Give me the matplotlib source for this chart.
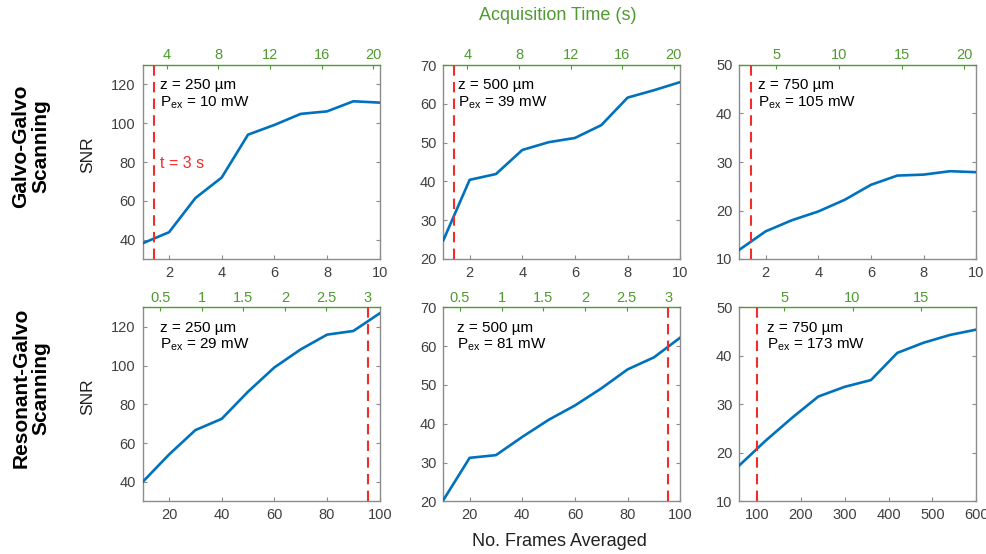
import matplotlib
matplotlib.use("Agg")
import matplotlib.pyplot as plt
import numpy as np

plt.rcParams['font.family'] = ['Liberation Sans', 'DejaVu Sans']
plt.rcParams['mathtext.fontset'] = 'custom'
plt.rcParams['mathtext.rm'] = 'Liberation Sans'
plt.rcParams['mathtext.it'] = 'Liberation Sans'

# ---------------- data ----------------
frames_gg = [1, 2, 3, 4, 5, 6, 7, 8, 9, 10]
snr_gg_250 = [38.1, 43.8, 61.4, 72.0, 94.1, 99.1, 104.8, 106.1, 111.3, 110.6]
snr_gg_500 = [24.8, 40.4, 41.9, 48.1, 50.1, 51.2, 54.5, 61.6, 63.5, 65.6]
snr_gg_750 = [11.9, 15.7, 18.0, 19.8, 22.2, 25.3, 27.2, 27.4, 28.1, 27.9]

frames_rg_100 = [10, 20, 30, 40, 50, 60, 70, 80, 90, 100]
snr_rg_250 = [40.0, 54.1, 66.7, 72.5, 86.5, 99.0, 108.3, 115.9, 117.8, 126.9]
snr_rg_500 = [20.3, 31.2, 31.9, 36.6, 41.0, 44.7, 49.1, 54.0, 57.1, 62.2]
frames_rg_600 = [60, 120, 180, 240, 300, 360, 420, 480, 540, 600]
snr_rg_750 = [17.4, 22.5, 27.2, 31.6, 33.6, 35.0, 40.6, 42.7, 44.3, 45.4]

labels_z = ['z = 250 µm', 'z = 500 µm', 'z = 750 µm',
            'z = 250 µm', 'z = 500 µm', 'z = 750 µm']
labels_p = ['10 mW', '39 mW', '105 mW', '29 mW', '81 mW', '173 mW']

frame_lims = [(1, 10), (1, 10), (1, 10), (10, 100), (10, 100), (60, 600)]
time_lims = [(2.14, 20.5), (2.14, 20.5), (2.06, 20.95),
             (0.291, 3.141), (0.299, 3.142), (1.72, 19.05)]
snr_lims = [(30, 130), (20, 70), (10, 50), (30, 130), (20, 70), (10, 50)]
snr_ticks = [[40, 60, 80, 100, 120], [20, 30, 40, 50, 60, 70], [10, 20, 30, 40, 50],
             [40, 60, 80, 100, 120], [20, 30, 40, 50, 60, 70], [10, 20, 30, 40, 50]]
frame_ticks = [[2, 4, 6, 8, 10], [2, 4, 6, 8, 10], [2, 4, 6, 8, 10],
               [20, 40, 60, 80, 100], [20, 40, 60, 80, 100], [100, 200, 300, 400, 500, 600]]
time_ticks = [[4, 8, 12, 16, 20], [4, 8, 12, 16, 20], [5, 10, 15, 20],
              [0.5, 1, 1.5, 2, 2.5, 3], [0.5, 1, 1.5, 2, 2.5, 3], [5, 10, 15]]
time_ticklabels = [['4', '8', '12', '16', '20'], ['4', '8', '12', '16', '20'],
                   ['5', '10', '15', '20'],
                   ['0.5', '1', '1.5', '2', '2.5', '3'], ['0.5', '1', '1.5', '2', '2.5', '3'],
                   ['5', '10', '15']]
t_marker = 3  # seconds

xs = [frames_gg, frames_gg, frames_gg, frames_rg_100, frames_rg_100, frames_rg_600]
ys = [snr_gg_250, snr_gg_500, snr_gg_750, snr_rg_250, snr_rg_500, snr_rg_750]

# ---------------- style ----------------
BLUE = '#0072BD'
RED = '#F22B2B'
GREEN = '#4F9A32'
SPINE = '#8C8C8C'
TICKC = '#404040'

fig = plt.figure(figsize=(9.87, 5.54), dpi=100)
W, H = 987, 554
lefts = [142.7, 443.3, 739.3]
tops = [65, 307.3]
aw, ah = 237, 194
text_x = [0.073, 0.062, 0.08, 0.073, 0.057, 0.116]

for i in range(6):
    r, c = divmod(i, 3)
    ax = fig.add_axes([lefts[c] / W, 1 - (tops[r] + ah) / H, aw / W, ah / H])
    ax.plot(xs[i], ys[i], color=BLUE, lw=1.9, zorder=3)
    ax.set_xlim(*frame_lims[i])
    ax.set_ylim(*snr_lims[i])
    ax.set_xticks(frame_ticks[i])
    ax.set_yticks(snr_ticks[i])
    ax.tick_params(direction='in', length=3, width=0.8, color=SPINE,
                   labelcolor=TICKC, labelsize=10.5, right=True, pad=5)
    for s in ['left', 'right', 'bottom']:
        ax.spines[s].set_color(SPINE)
        ax.spines[s].set_linewidth(1.0)
    ax.spines['top'].set_visible(False)

    ax2 = ax.twiny()
    ax2.set_xlim(*time_lims[i])
    ax2.set_xticks(time_ticks[i])
    ax2.set_xticklabels(time_ticklabels[i])
    ax2.tick_params(axis='x', direction='in', length=3, width=0.8, color=GREEN,
                    labelcolor=GREEN, labelsize=10.5, pad=2)
    for s in ['left', 'right', 'bottom']:
        ax2.spines[s].set_visible(False)
    ax2.spines['top'].set_color(GREEN)
    ax2.spines['top'].set_linewidth(1.0)
    ax2.axvline(t_marker, color=RED, lw=1.5, ls=(0, (5, 3)), zorder=4)

    ax.text(text_x[i], 0.895, labels_z[i], transform=ax.transAxes, fontsize=11,
            va='center', ha='left', color='black')
    ax.text(text_x[i], 0.805, r'P$_{\mathrm{ex}}$ = ' + labels_p[i], transform=ax.transAxes,
            fontsize=11, va='center', ha='left', color='black')
    if i == 0:
        ax.text(0.075, 0.49, 't = 3 s', transform=ax.transAxes, fontsize=11.5,
                va='center', ha='left', color=RED)

# figure-level labels
fig.text(558 / W, 1 - 16 / H, 'Acquisition Time (s)', color=GREEN, fontsize=13,
         ha='center', va='center')
fig.text(559 / W, 1 - 541 / H, 'No. Frames Averaged', color='#222222', fontsize=13,
         ha='center', va='center')
fig.text(31 / W, 1 - 146 / H, 'Galvo-Galvo\nScanning', fontsize=15, fontweight='bold',
         rotation=90, ha='center', va='center', linespacing=1.05)
fig.text(31 / W, 1 - 388 / H, 'Resonant-Galvo\nScanning', fontsize=15, fontweight='bold',
         rotation=90, ha='center', va='center', linespacing=1.05)
fig.text(88 / W, 1 - 155 / H, 'SNR', fontsize=12.5, rotation=90, ha='center', va='center',
         color='#222222')
fig.text(88 / W, 1 - 397 / H, 'SNR', fontsize=12.5, rotation=90, ha='center', va='center',
         color='#222222')

fig.savefig('out.png', dpi=100)
